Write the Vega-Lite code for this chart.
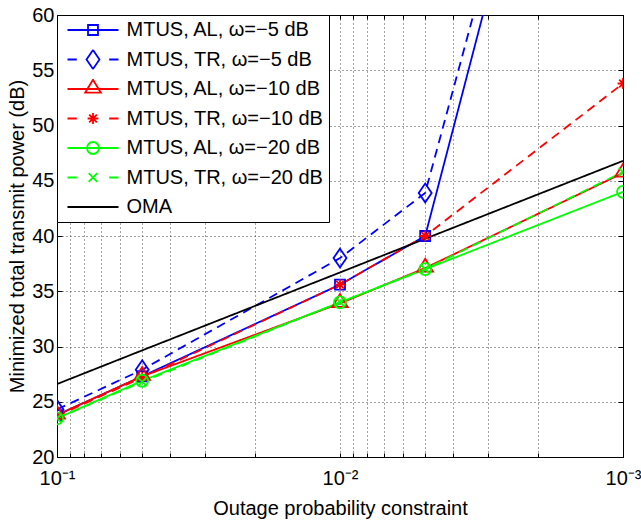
{
  "$schema": "https://vega.github.io/schema/vega-lite/v6.json",
  "width": 566,
  "height": 442,
  "autosize": "none",
  "padding": {"left": 57, "top": 15, "right": 18, "bottom": 64},
  "background": "white",
  "config": {
    "font": "Liberation Sans",
    "view": {"stroke": "black", "strokeWidth": 1},
    "axis": {"labelFont": "Liberation Sans", "titleFont": "Liberation Sans", "labelColor": "black", "titleColor": "black", "domainColor": "black", "tickColor": "black", "labelFontSize": 20, "titleFontSize": 20, "titleFontWeight": "normal"},
    "legend": {
      "orient": "top-left", "offset": 0, "padding": 5, "strokeColor": "black", "fillColor": "white",
      "labelFont": "Liberation Sans", "labelFontSize": 20, "labelColor": "black", "labelLimit": 400,
      "symbolSize": 144, "symbolStrokeWidth": 1.8, "symbolOpacity": 1, "symbolOffset": 21, "labelOffset": 23.5,
      "clipHeight": 20, "rowPadding": 9.5, "title": null
    }
  },
  "data": {"values": [
    {"p": 0.1, "P": 23.8, "s": "MTUS, AL, ω=−5 dB"},
    {"p": 0.05, "P": 27.3, "s": "MTUS, AL, ω=−5 dB"},
    {"p": 0.01, "P": 35.6, "s": "MTUS, AL, ω=−5 dB"},
    {"p": 0.005, "P": 40.0, "s": "MTUS, AL, ω=−5 dB"},
    {"p": 0.001, "P": 108.6, "s": "MTUS, AL, ω=−5 dB"},
    {"p": 0.1, "P": 24.3, "s": "MTUS, TR, ω=−5 dB"},
    {"p": 0.05, "P": 27.9, "s": "MTUS, TR, ω=−5 dB"},
    {"p": 0.01, "P": 38.0, "s": "MTUS, TR, ω=−5 dB"},
    {"p": 0.005, "P": 43.9, "s": "MTUS, TR, ω=−5 dB"},
    {"p": 0.001, "P": 110.0, "s": "MTUS, TR, ω=−5 dB"},
    {"p": 0.1, "P": 23.8, "s": "MTUS, AL, ω=−10 dB"},
    {"p": 0.05, "P": 27.3, "s": "MTUS, AL, ω=−10 dB"},
    {"p": 0.01, "P": 33.9, "s": "MTUS, AL, ω=−10 dB"},
    {"p": 0.005, "P": 37.1, "s": "MTUS, AL, ω=−10 dB"},
    {"p": 0.001, "P": 45.7, "s": "MTUS, AL, ω=−10 dB"},
    {"p": 0.1, "P": 23.7, "s": "MTUS, TR, ω=−10 dB"},
    {"p": 0.05, "P": 27.2, "s": "MTUS, TR, ω=−10 dB"},
    {"p": 0.01, "P": 35.6, "s": "MTUS, TR, ω=−10 dB"},
    {"p": 0.005, "P": 40.0, "s": "MTUS, TR, ω=−10 dB"},
    {"p": 0.001, "P": 53.8, "s": "MTUS, TR, ω=−10 dB"},
    {"p": 0.1, "P": 23.5, "s": "MTUS, AL, ω=−20 dB"},
    {"p": 0.05, "P": 26.9, "s": "MTUS, AL, ω=−20 dB"},
    {"p": 0.01, "P": 34.0, "s": "MTUS, AL, ω=−20 dB"},
    {"p": 0.005, "P": 37.0, "s": "MTUS, AL, ω=−20 dB"},
    {"p": 0.001, "P": 44.0, "s": "MTUS, AL, ω=−20 dB"},
    {"p": 0.1, "P": 23.5, "s": "MTUS, TR, ω=−20 dB"},
    {"p": 0.05, "P": 26.8, "s": "MTUS, TR, ω=−20 dB"},
    {"p": 0.01, "P": 34.0, "s": "MTUS, TR, ω=−20 dB"},
    {"p": 0.005, "P": 37.0, "s": "MTUS, TR, ω=−20 dB"},
    {"p": 0.001, "P": 45.8, "s": "MTUS, TR, ω=−20 dB"},
    {"p": 0.1, "P": 26.6, "s": "OMA"},
    {"p": 0.05, "P": 29.65, "s": "OMA"},
    {"p": 0.01, "P": 36.7, "s": "OMA"},
    {"p": 0.005, "P": 39.75, "s": "OMA"},
    {"p": 0.001, "P": 46.8, "s": "OMA"}
  ]},
  "layer": [
    {
      "mark": {"type": "line", "clip": true, "strokeWidth": 1.8},
      "encoding": {
        "x": {"field": "p", "type": "quantitative",
          "scale": {"type": "log", "domain": [0.001, 0.1], "reverse": true, "nice": false},
          "axis": {"orient": "bottom", "values": [0.1, 0.09, 0.08, 0.07, 0.06, 0.05, 0.04, 0.03, 0.02, 0.01, 0.009, 0.008, 0.007, 0.006, 0.005, 0.004, 0.003, 0.002, 0.001],
            "labelExpr": "datum.value > 0.095 ? '10⁻¹' : (abs(datum.value - 0.01) < 0.000001 ? '10⁻²' : (datum.value < 0.0011 ? '10⁻³' : ''))",
            "labelOverlap": false, "labelFlush": false, "labelPadding": 15,
            "grid": true, "gridDash": [1, 3], "gridColor": "#333", "gridOpacity": 0.9,
            "tickSize": -4, "title": "Outage probability constraint", "titlePadding": 10}},
        "y": {"field": "P", "type": "quantitative",
          "scale": {"domain": [20, 60], "nice": false, "zero": false},
          "axis": {"orient": "left", "values": [20, 25, 30, 35, 40, 45, 50, 55, 60],
            "labelPadding": 8, "grid": true, "gridDash": [1, 3], "gridColor": "#333", "gridOpacity": 0.9,
            "tickSize": -5, "title": "Minimized total transmit power (dB)", "titlePadding": 4}},
        "color": {"field": "s", "type": "nominal", "legend": null,
          "scale": {"domain": ["MTUS, AL, ω=−5 dB", "MTUS, TR, ω=−5 dB", "MTUS, AL, ω=−10 dB", "MTUS, TR, ω=−10 dB", "MTUS, AL, ω=−20 dB", "MTUS, TR, ω=−20 dB", "OMA"],
            "range": ["#0000ff", "#0000ff", "#ff0000", "#ff0000", "#00ff00", "#00ff00", "#000000"]}},
        "strokeDash": {"field": "s", "type": "nominal", "legend": null,
          "scale": {"domain": ["MTUS, AL, ω=−5 dB", "MTUS, TR, ω=−5 dB", "MTUS, AL, ω=−10 dB", "MTUS, TR, ω=−10 dB", "MTUS, AL, ω=−20 dB", "MTUS, TR, ω=−20 dB", "OMA"],
            "range": [[1, 0], [9, 6], [1, 0], [9, 6], [1, 0], [9, 6], [1, 0]]}}
      }
    },
    {
      "transform": [{"filter": "datum.s != 'OMA'"}],
      "mark": {"type": "point", "clip": true, "filled": false, "strokeWidth": 1.8, "size": 144, "opacity": 1},
      "encoding": {
        "x": {"field": "p", "type": "quantitative",
          "axis": {"orient": "top", "values": [0.1, 0.09, 0.08, 0.07, 0.06, 0.05, 0.04, 0.03, 0.02, 0.01, 0.009, 0.008, 0.007, 0.006, 0.005, 0.004, 0.003, 0.002, 0.001],
            "labels": false, "grid": false, "tickSize": -4, "title": null}},
        "y": {"field": "P", "type": "quantitative",
          "axis": {"orient": "right", "values": [20, 25, 30, 35, 40, 45, 50, 55, 60], "labels": false, "grid": false, "tickSize": -5, "title": null}},
        "color": {"field": "s", "type": "nominal", "legend": null,
          "scale": {"domain": ["MTUS, AL, ω=−5 dB", "MTUS, TR, ω=−5 dB", "MTUS, AL, ω=−10 dB", "MTUS, TR, ω=−10 dB", "MTUS, AL, ω=−20 dB", "MTUS, TR, ω=−20 dB"],
            "range": ["#0000ff", "#0000ff", "#ff0000", "#ff0000", "#00ff00", "#00ff00"]}},
        "shape": {"field": "s", "type": "nominal", "legend": null,
          "scale": {"domain": ["MTUS, AL, ω=−5 dB", "MTUS, TR, ω=−5 dB", "MTUS, AL, ω=−10 dB", "MTUS, TR, ω=−10 dB", "MTUS, AL, ω=−20 dB", "MTUS, TR, ω=−20 dB"],
            "range": [
              "M-0.83,-0.83H0.83V0.83H-0.83Z",
              "M0,-1.57L1.08,0L0,1.57L-1.08,0Z",
              "M0,-1.55L1.3,0.6H-1.3Z",
              "M0,-0.9V0.9M-0.9,0H0.9M-0.64,-0.64L0.64,0.64M-0.64,0.64L0.64,-0.64",
              "M1,0A1,1,0,1,1,-1,0A1,1,0,1,1,1,0Z",
              "M-0.72,-0.72L0.72,0.72M-0.72,0.72L0.72,-0.72"
            ]}}
      }
    },
    {
      "transform": [{"filter": "false"}],
      "mark": {"type": "point", "filled": false, "strokeWidth": 1.8, "size": 144, "opacity": 1},
      "encoding": {
        "color": {"field": "s", "type": "nominal",
          "scale": {"domain": ["MTUS, AL, ω=−5 dB", "MTUS, TR, ω=−5 dB", "MTUS, AL, ω=−10 dB", "MTUS, TR, ω=−10 dB", "MTUS, AL, ω=−20 dB", "MTUS, TR, ω=−20 dB", "OMA"],
            "range": ["#0000ff", "#0000ff", "#ff0000", "#ff0000", "#00ff00", "#00ff00", "#000000"]}},
        "shape": {"field": "s", "type": "nominal",
          "scale": {"domain": ["MTUS, AL, ω=−5 dB", "MTUS, TR, ω=−5 dB", "MTUS, AL, ω=−10 dB", "MTUS, TR, ω=−10 dB", "MTUS, AL, ω=−20 dB", "MTUS, TR, ω=−20 dB", "OMA"],
            "range": [
              "M-4.25,0H4.25M-0.83,-0.83H0.83V0.83H-0.83Z",
              "M-4.25,0H-2.7M2.7,0H4.25M0,-1.57L1.08,0L0,1.57L-1.08,0Z",
              "M-4.25,0H4.25M0,-1.55L1.3,0.6H-1.3Z",
              "M-4.25,0H-2.7M2.7,0H4.25M0,-0.9V0.9M-0.9,0H0.9M-0.64,-0.64L0.64,0.64M-0.64,0.64L0.64,-0.64",
              "M-4.25,0H4.25M1,0A1,1,0,1,1,-1,0A1,1,0,1,1,1,0Z",
              "M-4.25,0H-2.7M2.7,0H4.25M-0.72,-0.72L0.72,0.72M-0.72,0.72L0.72,-0.72",
              "M-4.25,0H4.25"
            ]}}
      }
    }
  ],
  "resolve": {
    "scale": {"color": "independent", "shape": "independent"},
    "axis": {"x": "independent", "y": "independent"}
  }
}
